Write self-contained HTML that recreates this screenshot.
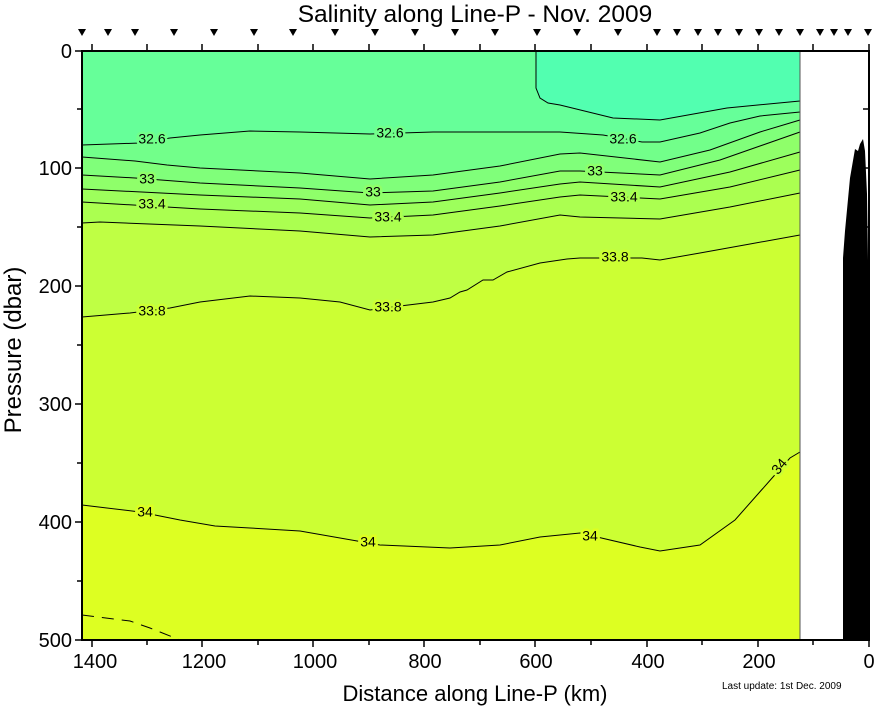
<!DOCTYPE html>
<html><head><meta charset="utf-8"><style>
html,body{margin:0;padding:0;background:#fff;}
svg{display:block;font-family:"Liberation Sans",Arial,sans-serif;}
.cl{fill:none;stroke:#000;stroke-width:1;}
.lb{font-size:14px;text-anchor:middle;dominant-baseline:middle;paint-order:stroke;stroke-width:5px;}
</style></head><body>
<svg width="878" height="708" viewBox="0 0 878 708" xmlns="http://www.w3.org/2000/svg">
<rect x="82" y="51" width="718" height="589" fill="#66ff99"/>
<path d="M536,51 L536,88 L540,98 L548,103 L560,105 L613,118 L660,120 L727,108 L800,101 L800,51 Z" fill="#52ffb0"/>
<path d="M82,145 L140,143 L170,138 L200,135 L250,131 L300,132 L370,134 L433,132 L500,132 L560,132 L603,135 L642,142 L660,142 L700,133 L730,123 L760,116 L800,112 L800,640 L82,640 Z" fill="#72ff8a"/>
<path d="M82,157 L135,161 L167,165 L200,168 L300,173 L370,179 L433,175 L500,166 L560,154 L580,153 L660,162 L710,150 L760,132 L800,120 L800,640 L82,640 Z" fill="#80ff7a"/>
<path d="M82,175 L135,178 L200,183 L300,188 L370,193 L433,191 L500,182 L560,171 L580,171 L660,175 L720,160 L800,132 L800,640 L82,640 Z" fill="#8fff6a"/>
<path d="M82,189 L200,195 L300,199 L370,205 L433,202 L500,193 L560,184 L580,182 L660,187 L730,172 L800,152 L800,640 L82,640 Z" fill="#9dff5c"/>
<path d="M82,202 L200,209 L300,213 L370,218 L433,215 L500,206 L560,197 L580,195 L660,199 L730,187 L800,170 L800,640 L82,640 Z" fill="#abff50"/>
<path d="M82,223 L100,222 L200,226 L300,231 L370,237 L433,235 L500,226 L560,215 L580,217 L660,219 L730,207 L800,193 L800,640 L82,640 Z" fill="#bfff44"/>
<path d="M82,317 L130,313 L170,308 L200,302 L250,296 L300,298 L340,302 L370,310 L400,306 L433,302 L450,298 L460,292 L467,290 L483,280 L493,280 L507,272 L540,263 L567,259 L580,258 L642,258 L660,260 L700,253 L750,244 L800,235 L800,640 L82,640 Z" fill="#ccff33"/>
<path d="M82,505 L140,512 L180,520 L215,526 L250,528 L300,531 L380,545 L450,548 L500,545 L540,537 L580,533 L640,547 L660,551 L700,545 L735,520 L773,477 L790,458 L800,452 L800,640 L82,640 Z" fill="#ddff22"/>
<g class="cl">
<path d="M536,51 L536,88 L540,98 L548,103 L560,105 L613,118 L660,120 L727,108 L800,101"/>
<path d="M82,145 L140,143 L170,138 L200,135 L250,131 L300,132 L370,134 L433,132 L500,132 L560,132 L603,135 L642,142 L660,142 L700,133 L730,123 L760,116 L800,112"/>
<path d="M82,157 L135,161 L167,165 L200,168 L300,173 L370,179 L433,175 L500,166 L560,154 L580,153 L660,162 L710,150 L760,132 L800,120"/>
<path d="M82,175 L135,178 L200,183 L300,188 L370,193 L433,191 L500,182 L560,171 L580,171 L660,175 L720,160 L800,132"/>
<path d="M82,189 L200,195 L300,199 L370,205 L433,202 L500,193 L560,184 L580,182 L660,187 L730,172 L800,152"/>
<path d="M82,202 L200,209 L300,213 L370,218 L433,215 L500,206 L560,197 L580,195 L660,199 L730,187 L800,170"/>
<path d="M82,223 L100,222 L200,226 L300,231 L370,237 L433,235 L500,226 L560,215 L580,217 L660,219 L730,207 L800,193"/>
<path d="M82,317 L130,313 L170,308 L200,302 L250,296 L300,298 L340,302 L370,310 L400,306 L433,302 L450,298 L460,292 L467,290 L483,280 L493,280 L507,272 L540,263 L567,259 L580,258 L642,258 L660,260 L700,253 L750,244 L800,235"/>
<path d="M82,505 L140,512 L180,520 L215,526 L250,528 L300,531 L380,545 L450,548 L500,545 L540,537 L580,533 L640,547 L660,551 L700,545 L735,520 L773,477 L790,458 L800,452"/>
<path d="M82,615 L130,621 L150,628 L180,640" stroke-dasharray="12,8"/>
</g>
<g class="lb">
<text x="152" y="140" stroke="#72ff8a">32.6</text><text x="390" y="134" stroke="#72ff8a">32.6</text><text x="623" y="140" stroke="#72ff8a">32.6</text>
<text x="147" y="180" stroke="#8fff6a">33</text><text x="373" y="193" stroke="#8fff6a">33</text><text x="595" y="172" stroke="#8fff6a">33</text>
<text x="152" y="205" stroke="#abff50">33.4</text><text x="388" y="218" stroke="#abff50">33.4</text><text x="624" y="198" stroke="#abff50">33.4</text>
<text x="152" y="312" stroke="#ccff33">33.8</text><text x="388" y="308" stroke="#ccff33">33.8</text><text x="615" y="258" stroke="#ccff33">33.8</text>
<text x="145" y="513" stroke="#ddff22">34</text><text x="368" y="543" stroke="#ddff22">34</text><text x="590" y="537" stroke="#ddff22">34</text>
<text x="780" y="467" stroke="#ccff33" transform="rotate(-50 780 467)">34</text>
</g>
<path d="M843,640 L843,258 L845,231 L850,178 L855,149 L858,151 L860,144 L863,139 L865,151 L867,194 L868,260 L869,640 Z" fill="#000"/>
<line x1="800" y1="51" x2="800" y2="640" stroke="#555" stroke-width="1"/>
<g stroke="#000" stroke-width="2" fill="none">
<rect x="82" y="51" width="787" height="589"/>
</g>
<g stroke="#000" stroke-width="1.5">
<path d="M92,640v7 M202,640v7 M313,640v7 M424,640v7 M535,640v7 M647,640v7 M758,640v7 M869,640v7"/>
<path d="M147,640v5 M258,640v5 M369,640v5 M480,640v5 M591,640v5 M702,640v5 M813,640v5"/>
<path d="M92,51v-7 M147,51v-7 M202,51v-7 M258,51v-7 M313,51v-7 M369,51v-7 M424,51v-7 M480,51v-7 M535,51v-7 M591,51v-7 M647,51v-7 M702,51v-7 M758,51v-7 M813,51v-7 M869,51v-7"/>
<path d="M82,51h-7 M82,168h-7 M82,286h-7 M82,404h-7 M82,522h-7 M82,640h-7"/>
<path d="M82,109h-5 M82,227h-5 M82,345h-5 M82,463h-5 M82,581h-5"/>
<path d="M869,109h-6 M869,168h-6 M869,227h-6 M869,286h-6 M869,345h-6 M869,404h-6 M869,463h-6 M869,522h-6 M869,581h-6"/>
</g>
<g fill="#000">
<path d="M-4,29h8l-4,7z" transform="translate(82,0)"/>
<path d="M-4,29h8l-4,7z" transform="translate(108,0)"/><path d="M-4,29h8l-4,7z" transform="translate(135,0)"/>
<path d="M-4,29h8l-4,7z" transform="translate(174,0)"/><path d="M-4,29h8l-4,7z" transform="translate(214,0)"/>
<path d="M-4,29h8l-4,7z" transform="translate(254,0)"/><path d="M-4,29h8l-4,7z" transform="translate(293,0)"/>
<path d="M-4,29h8l-4,7z" transform="translate(335,0)"/><path d="M-4,29h8l-4,7z" transform="translate(375,0)"/>
<path d="M-4,29h8l-4,7z" transform="translate(415,0)"/><path d="M-4,29h8l-4,7z" transform="translate(455,0)"/>
<path d="M-4,29h8l-4,7z" transform="translate(495,0)"/><path d="M-4,29h8l-4,7z" transform="translate(537,0)"/>
<path d="M-4,29h8l-4,7z" transform="translate(577,0)"/><path d="M-4,29h8l-4,7z" transform="translate(618,0)"/>
<path d="M-4,29h8l-4,7z" transform="translate(657,0)"/><path d="M-4,29h8l-4,7z" transform="translate(677,0)"/>
<path d="M-4,29h8l-4,7z" transform="translate(698,0)"/><path d="M-4,29h8l-4,7z" transform="translate(718,0)"/>
<path d="M-4,29h8l-4,7z" transform="translate(739,0)"/><path d="M-4,29h8l-4,7z" transform="translate(759,0)"/>
<path d="M-4,29h8l-4,7z" transform="translate(779,0)"/><path d="M-4,29h8l-4,7z" transform="translate(800,0)"/>
<path d="M-4,29h8l-4,7z" transform="translate(820,0)"/><path d="M-4,29h8l-4,7z" transform="translate(834,0)"/>
<path d="M-4,29h8l-4,7z" transform="translate(848,0)"/><path d="M-4,29h8l-4,7z" transform="translate(868,0)"/>
</g>
<g font-size="20" text-anchor="middle" fill="#000">
<text x="95" y="668">1400</text><text x="204" y="668">1200</text><text x="315" y="668">1000</text>
<text x="425" y="668">800</text><text x="536" y="668">600</text><text x="648" y="668">400</text>
<text x="759" y="668">200</text><text x="869" y="668">0</text>
</g>
<g font-size="20" text-anchor="end" fill="#000">
<text x="72" y="58">0</text><text x="72" y="175">100</text><text x="72" y="293">200</text>
<text x="72" y="411">300</text><text x="72" y="529">400</text><text x="72" y="647">500</text>
</g>
<text x="475" y="22" font-size="24.5" text-anchor="middle">Salinity along Line-P - Nov. 2009</text>
<text x="475" y="701" font-size="22" text-anchor="middle">Distance along Line-P (km)</text>
<text x="21" y="350" font-size="24" text-anchor="middle" transform="rotate(-90 21 350)">Pressure (dbar)</text>
<text x="722" y="689" font-size="10">Last update: 1st Dec. 2009</text>
</svg>
</body></html>
